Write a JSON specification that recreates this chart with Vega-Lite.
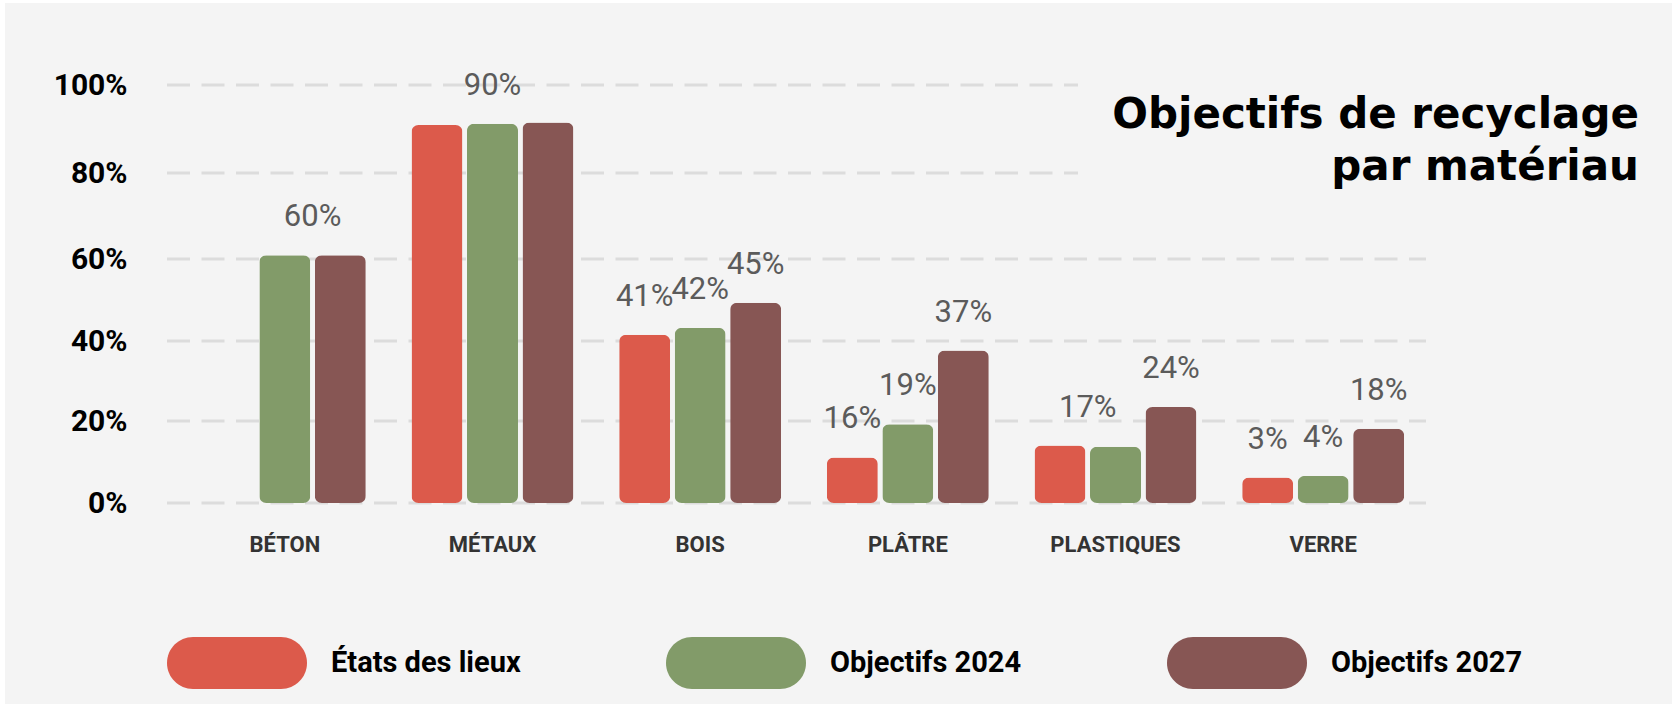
{
  "$schema": "https://vega.github.io/schema/vega-lite/v6.json",
  "autosize": "none",
  "padding": {"left": 5, "top": 3, "right": 3, "bottom": 0},
  "width": 1667,
  "height": 701,
  "background": "#ffffff",
  "config": {
    "view": {"fill": "#f4f4f4", "stroke": null},
    "font": "Roboto"
  },
  "title": {
    "text": ["Objectifs de recyclage", "par matériau"],
    "anchor": "end",
    "align": "right",
    "frame": "group",
    "orient": "top",
    "baseline": "top",
    "offset": 0,
    "dx": -33,
    "dy": 186,
    "font": "DejaVu Sans",
    "fontSize": 42,
    "fontWeight": "bold",
    "color": "#000000",
    "lineHeight": 52
  },
  "datasets": {
    "grille": [
      {"pct": 0}, {"pct": 20}, {"pct": 40}, {"pct": 60}, {"pct": 80}, {"pct": 100}
    ],
    "barres": [
      {"materiau": "BÉTON", "serie": "Objectifs 2024", "valeur": 60.9},
      {"materiau": "BÉTON", "serie": "Objectifs 2027", "valeur": 60.9},
      {"materiau": "MÉTAUX", "serie": "États des lieux", "valeur": 90.9},
      {"materiau": "MÉTAUX", "serie": "Objectifs 2024", "valeur": 91.2},
      {"materiau": "MÉTAUX", "serie": "Objectifs 2027", "valeur": 91.5},
      {"materiau": "BOIS", "serie": "États des lieux", "valeur": 41.5},
      {"materiau": "BOIS", "serie": "Objectifs 2024", "valeur": 43.2},
      {"materiau": "BOIS", "serie": "Objectifs 2027", "valeur": 49.3},
      {"materiau": "PLÂTRE", "serie": "États des lieux", "valeur": 11.1},
      {"materiau": "PLÂTRE", "serie": "Objectifs 2024", "valeur": 19.2},
      {"materiau": "PLÂTRE", "serie": "Objectifs 2027", "valeur": 37.6},
      {"materiau": "PLASTIQUES", "serie": "États des lieux", "valeur": 14.0},
      {"materiau": "PLASTIQUES", "serie": "Objectifs 2024", "valeur": 13.7},
      {"materiau": "PLASTIQUES", "serie": "Objectifs 2027", "valeur": 23.5},
      {"materiau": "VERRE", "serie": "États des lieux", "valeur": 6.2},
      {"materiau": "VERRE", "serie": "Objectifs 2024", "valeur": 6.6},
      {"materiau": "VERRE", "serie": "Objectifs 2027", "valeur": 18.1}
    ],
    "etiquettes": [
      {"materiau": "BÉTON", "cible": "Objectifs 2024 et Objectifs 2027", "texte": "60%", "valeur": 60.9},
      {"materiau": "MÉTAUX", "cible": "Objectifs 2024", "texte": "90%", "valeur": 91.2},
      {"materiau": "BOIS", "cible": "États des lieux", "texte": "41%", "valeur": 41.5},
      {"materiau": "BOIS", "cible": "Objectifs 2024", "texte": "42%", "valeur": 43.2},
      {"materiau": "BOIS", "cible": "Objectifs 2027", "texte": "45%", "valeur": 49.3},
      {"materiau": "PLÂTRE", "cible": "États des lieux", "texte": "16%", "valeur": 11.1},
      {"materiau": "PLÂTRE", "cible": "Objectifs 2024", "texte": "19%", "valeur": 19.2},
      {"materiau": "PLÂTRE", "cible": "Objectifs 2027", "texte": "37%", "valeur": 37.6},
      {"materiau": "PLASTIQUES", "cible": "États des lieux et Objectifs 2024", "texte": "17%", "valeur": 14.0},
      {"materiau": "PLASTIQUES", "cible": "Objectifs 2027", "texte": "24%", "valeur": 23.5},
      {"materiau": "VERRE", "cible": "États des lieux", "texte": "3%", "valeur": 6.2},
      {"materiau": "VERRE", "cible": "Objectifs 2024", "texte": "4%", "valeur": 6.6},
      {"materiau": "VERRE", "cible": "Objectifs 2027", "texte": "18%", "valeur": 18.1}
    ]
  },
  "layer": [
    {
      "data": {"name": "grille"},
      "layer": [
        {
          "transform": [{"filter": "datum.pct <= 60"}],
          "mark": {"type": "rule", "stroke": "#dcdcdc", "strokeWidth": 3, "strokeDash": [23, 11.5]},
          "encoding": {
            "y": {"field": "pct", "type": "quantitative",
                  "scale": {"domain": [0, 20, 40, 60, 80, 100], "range": [500, 418, 338, 256, 170, 82], "nice": false, "zero": false},
                  "axis": {
                    "title": null, "values": [0, 20, 40, 60, 80, 100], "labelExpr": "datum.value + '%'",
                    "offset": -122, "domain": false, "ticks": false, "tickSize": 0, "labelPadding": 0, "grid": false,
                    "labelFont": "Roboto", "labelFontSize": 30, "labelFontWeight": "bold",
                    "labelColor": "#000000", "labelBaseline": "middle",
                    "encode": {"labels": {"update": {"dy": {"signal": "datum.value == 0 ? -11 : datum.value == 20 ? -7 : datum.value == 40 ? -3 : datum.value == 100 ? 3 : 0"}}}}
                  }},
            "x": {"datum": 0, "type": "quantitative", "axis": null, "scale": {"domain": [0, 1], "range": [162, 1421], "nice": false, "zero": false}},
            "x2": {"datum": 1}
          }
        },
        {
          "transform": [{"filter": "datum.pct >= 80"}],
          "mark": {"type": "rule", "stroke": "#dcdcdc", "strokeWidth": 3, "strokeDash": [23, 11.5]},
          "encoding": {
            "y": {"field": "pct", "type": "quantitative",
                  "scale": {"domain": [0, 20, 40, 60, 80, 100], "range": [500, 418, 338, 256, 170, 82], "nice": false, "zero": false}},
            "x": {"datum": 0, "type": "quantitative", "axis": null, "scale": {"domain": [0, 1], "range": [162, 1421], "nice": false, "zero": false}},
            "x2": {"datum": 0.7236}
          }
        }
      ]
    },
    {
      "layer": [
        {
          "data": {"name": "barres"},
          "mark": {"type": "bar", "cornerRadius": 7},
          "encoding": {
            "x": {
              "field": "materiau", "type": "nominal", "sort": null,
              "scale": {"range": [176, 1422], "paddingInner": 0.22, "paddingOuter": 0.11},
              "axis": {
                "title": null, "orient": "bottom", "offset": -160, "domain": false, "ticks": false, "tickSize": 0,
                "labelPadding": 0, "labelBaseline": "middle", "labelAngle": 0,
                "labelFont": "Roboto", "labelFontSize": 22, "labelFontWeight": "bold",
                "labelColor": "#333333", "grid": false
              }
            },
            "xOffset": {
              "field": "serie", "type": "nominal",
              "sort": ["États des lieux", "Objectifs 2024", "Objectifs 2027"],
              "scale": {"domain": ["États des lieux", "Objectifs 2024", "Objectifs 2027"], "paddingInner": 0.081, "paddingOuter": 0}
            },
            "y": {
              "field": "valeur", "type": "quantitative",
              "scale": {"domain": [0, 20, 40, 60, 80, 100], "range": [500, 418, 338, 256, 170, 82], "nice": false, "zero": false}
            },
            "color": {
              "field": "serie", "type": "nominal",
              "scale": {"domain": ["États des lieux", "Objectifs 2024", "Objectifs 2027"], "range": ["#dc5a4b", "#829b69", "#875654"]},
              "legend": {
                "title": null, "orient": "none", "legendX": 162, "legendY": 590, "direction": "horizontal",
                "padding": 0, "columnPadding": 145, "labelOffset": 24, "labelLimit": 400,
                "symbolType": "M-0.629,-0.371 L0.629,-0.371 A0.371,0.371 0 0 1 0.629,0.371 L-0.629,0.371 A0.371,0.371 0 0 1 -0.629,-0.371 Z",
                "symbolSize": 19600, "symbolStrokeWidth": 0, "symbolOpacity": 1,
                "labelFont": "Roboto", "labelFontSize": 29, "labelFontWeight": "bold",
                "labelColor": "#000000", "labelBaseline": "middle",
                "encode": {"symbols": {
                  "enter": {"fill": {"signal": "datum.value == 'États des lieux' ? '#ec6455' : datum.value == 'Objectifs 2024' ? '#829b69' : '#875654'"}},
                  "update": {"fill": {"signal": "datum.value == 'États des lieux' ? '#ec6455' : datum.value == 'Objectifs 2024' ? '#829b69' : '#875654'"}, "opacity": {"value": 1}}
                }}
              }
            }
          }
        },
        {
          "data": {"name": "etiquettes"},
          "mark": {"type": "text", "baseline": "middle", "align": "center", "dy": -38,
                   "font": "Roboto", "fontSize": 31, "color": "#5b5b5b"},
          "encoding": {
            "x": {"field": "materiau", "type": "nominal", "sort": null},
            "xOffset": {
              "field": "cible", "type": "nominal",
              "scale": {"type": "point", "padding": 0.919,
                        "domain": ["États des lieux", "États des lieux et Objectifs 2024", "Objectifs 2024", "Objectifs 2024 et Objectifs 2027", "Objectifs 2027"]}
            },
            "y": {"field": "valeur", "type": "quantitative",
                  "scale": {"domain": [0, 20, 40, 60, 80, 100], "range": [500, 418, 338, 256, 170, 82], "nice": false, "zero": false}},
            "text": {"field": "texte", "type": "nominal"}
          }
        }
      ],
      "resolve": {"scale": {"xOffset": "independent"}}
    }
  ],
  "resolve": {"scale": {"x": "independent"}}
}
